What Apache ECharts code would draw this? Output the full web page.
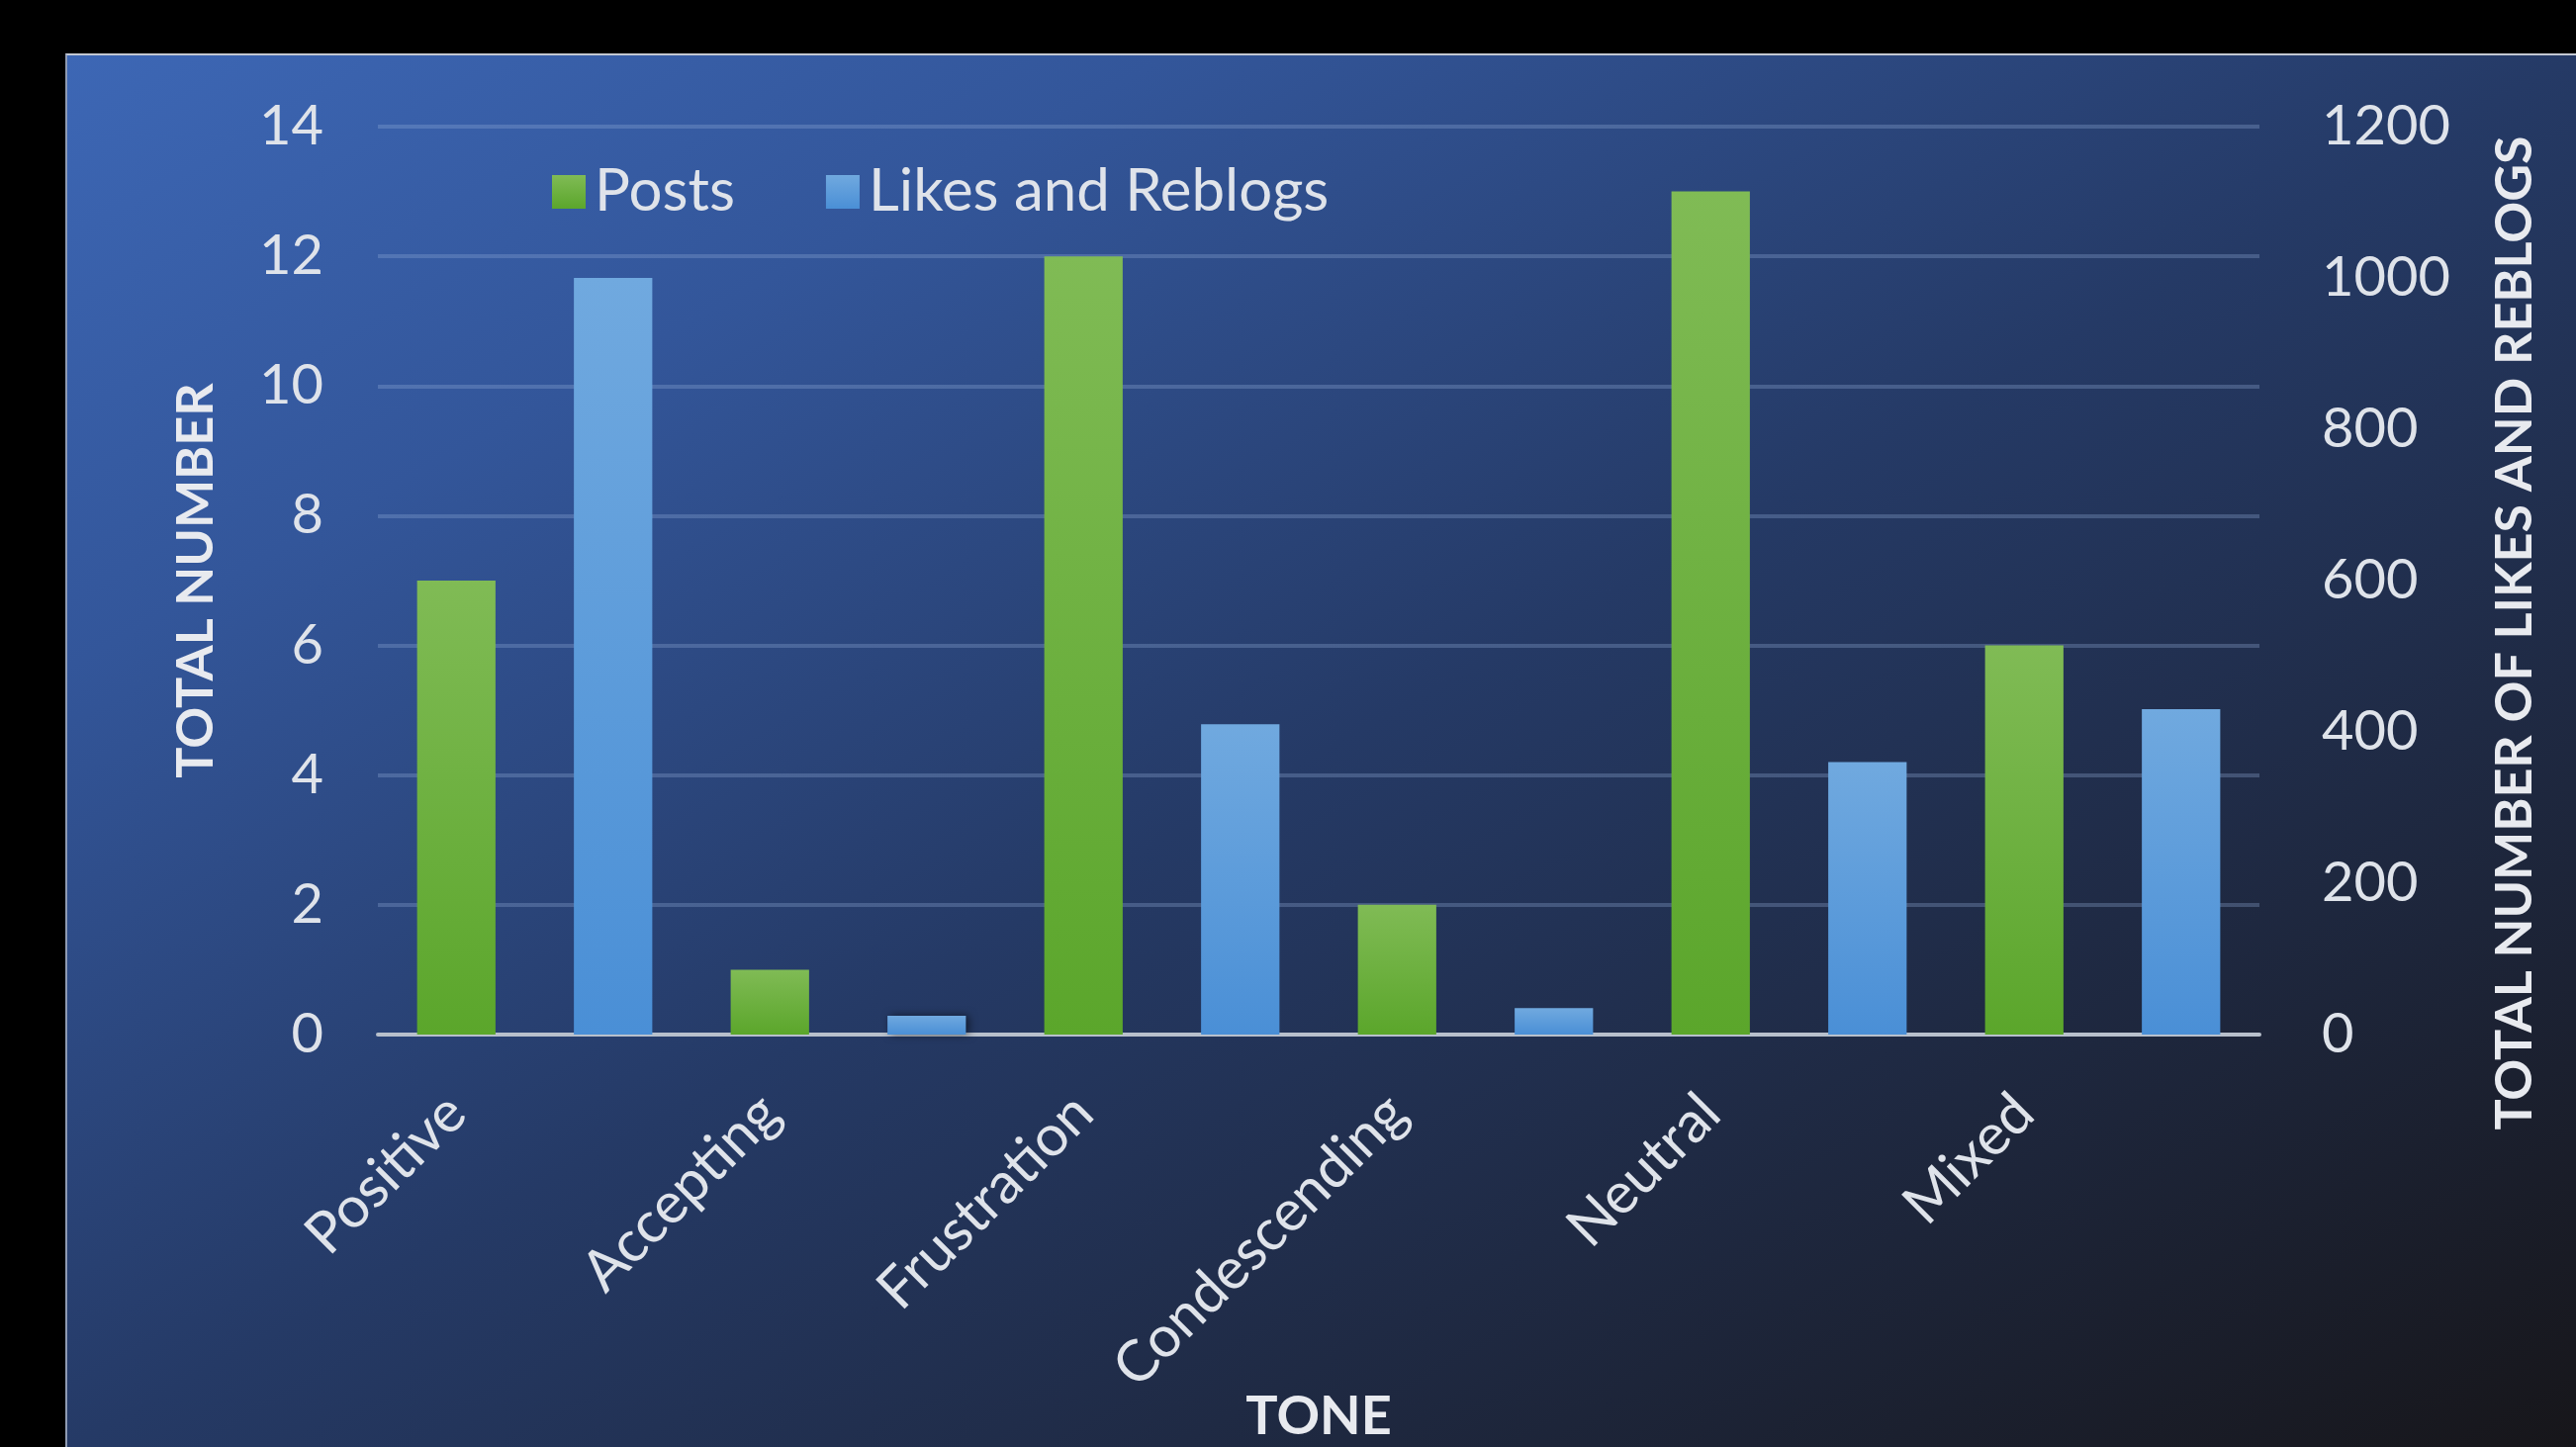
<!DOCTYPE html>
<html>
<head>
<meta charset="utf-8">
<script src="https://cdn.jsdelivr.net/npm/echarts@6/dist/echarts.min.js"></script>
<style>
  html, body { margin: 0; padding: 0; background: #000; width: 2604px; height: 1463px; overflow: hidden; }
  #chart {
    position: absolute; left: 66px; top: 54px; width: 2538px; height: 1409px;
    box-sizing: border-box;
    border-top: 2px solid #c3c8d2; border-left: 2px solid #8f9bb3;
    background: linear-gradient(to bottom right, #3d67b5 0%, #33569a 22%, #253a66 50%, #1f2a44 72%, #17161a 100%);
  }
</style>
</head>
<body>
<div id="chart"></div>
<script>
// 12 slots: each tone gets a Posts slot then a Likes slot (Excel skips every other label)
const categories = ['Positive', '', 'Accepting', '', 'Frustration', '', 'Condescending', '', 'Neutral', '', 'Mixed', ''];
const posts = [7, null, 1, null, 12, null, 2, null, 13, null, 6, null];
const likesReblogs = [null, 1000, null, 25, null, 410, null, 35, null, 360, null, 430];

const font = 'Lato, "Open Sans", sans-serif';
const textColor = '#dfe3ea';

const chart = echarts.init(document.getElementById('chart'));

const option = {
  backgroundColor: 'transparent',
  legend: {
    data: ['Posts', 'Likes and Reblogs'],
    left: 485,
    top: 103,
    itemWidth: 34,
    itemHeight: 34,
    itemGap: 92,
    icon: 'rect',
    textStyle: { color: textColor, fontSize: 60, fontFamily: font, padding: [0, 0, 0, 4] }
  },
  grid: { left: 314, right: 320, top: 72, bottom: 417, outerBoundsMode: 'none' },
  xAxis: {
    type: 'category',
    data: categories,
    name: 'TONE',
    nameLocation: 'middle',
    nameGap: 360,
    nameMoveOverlap: false,
    nameTextStyle: { color: '#e8eaef', fontSize: 54, fontWeight: 'bold', fontFamily: font },
    axisLine: { lineStyle: { color: '#b8c0cc', width: 4 } },
    axisTick: { show: false },
    axisLabel: {
      interval: 1,
      rotate: 45,
      margin: 70,
      color: textColor,
      fontSize: 58,
      fontFamily: font
    }
  },
  yAxis: [
    {
      type: 'value',
      min: 0, max: 14, interval: 2,
      name: 'TOTAL NUMBER',
      nameLocation: 'middle',
      nameRotate: 90,
      nameGap: 158,
      nameTextStyle: { color: '#e8eaef', fontSize: 52, fontWeight: 'bold', fontFamily: font },
      axisLine: { show: false },
      axisTick: { show: false },
      axisLabel: { color: textColor, fontSize: 56, fontFamily: font, margin: 55 },
      splitLine: { lineStyle: { color: 'rgba(150,175,220,0.3)', width: 4 } }
    },
    {
      type: 'value',
      min: 0, max: 1200, interval: 200,
      name: 'TOTAL NUMBER OF LIKES AND REBLOGS',
      nameLocation: 'middle',
      nameRotate: 90,
      nameGap: 232,
      nameTextStyle: { color: '#e8eaef', fontSize: 52, fontWeight: 'bold', fontFamily: font, padding: [0, 106, 0, 0] },
      axisLine: { show: false },
      axisTick: { show: false },
      axisLabel: { color: textColor, fontSize: 56, fontFamily: font, margin: 63, formatter: (v) => String(v) },
      splitLine: { show: false }
    }
  ],
  series: [
    {
      name: 'Posts',
      type: 'bar',
      yAxisIndex: 0,
      barWidth: '50%',
      barGap: '-100%',
      itemStyle: {
        color: new echarts.graphic.LinearGradient(0, 0, 0, 1, [
          { offset: 0, color: '#80bb55' },
          { offset: 1, color: '#5ba62b' }
        ]),
        shadowColor: 'rgba(0,0,0,0.55)',
        shadowBlur: 8,
        shadowOffsetX: 3
      },
      data: posts
    },
    {
      name: 'Likes and Reblogs',
      type: 'bar',
      yAxisIndex: 1,
      barWidth: '50%',
      barGap: '-100%',
      itemStyle: {
        color: new echarts.graphic.LinearGradient(0, 0, 0, 1, [
          { offset: 0, color: '#70a9df' },
          { offset: 1, color: '#4a8fd6' }
        ]),
        shadowColor: 'rgba(0,0,0,0.55)',
        shadowBlur: 8,
        shadowOffsetX: 3
      },
      data: likesReblogs
    }
  ]
};

chart.setOption(option);
</script>
</body>
</html>
